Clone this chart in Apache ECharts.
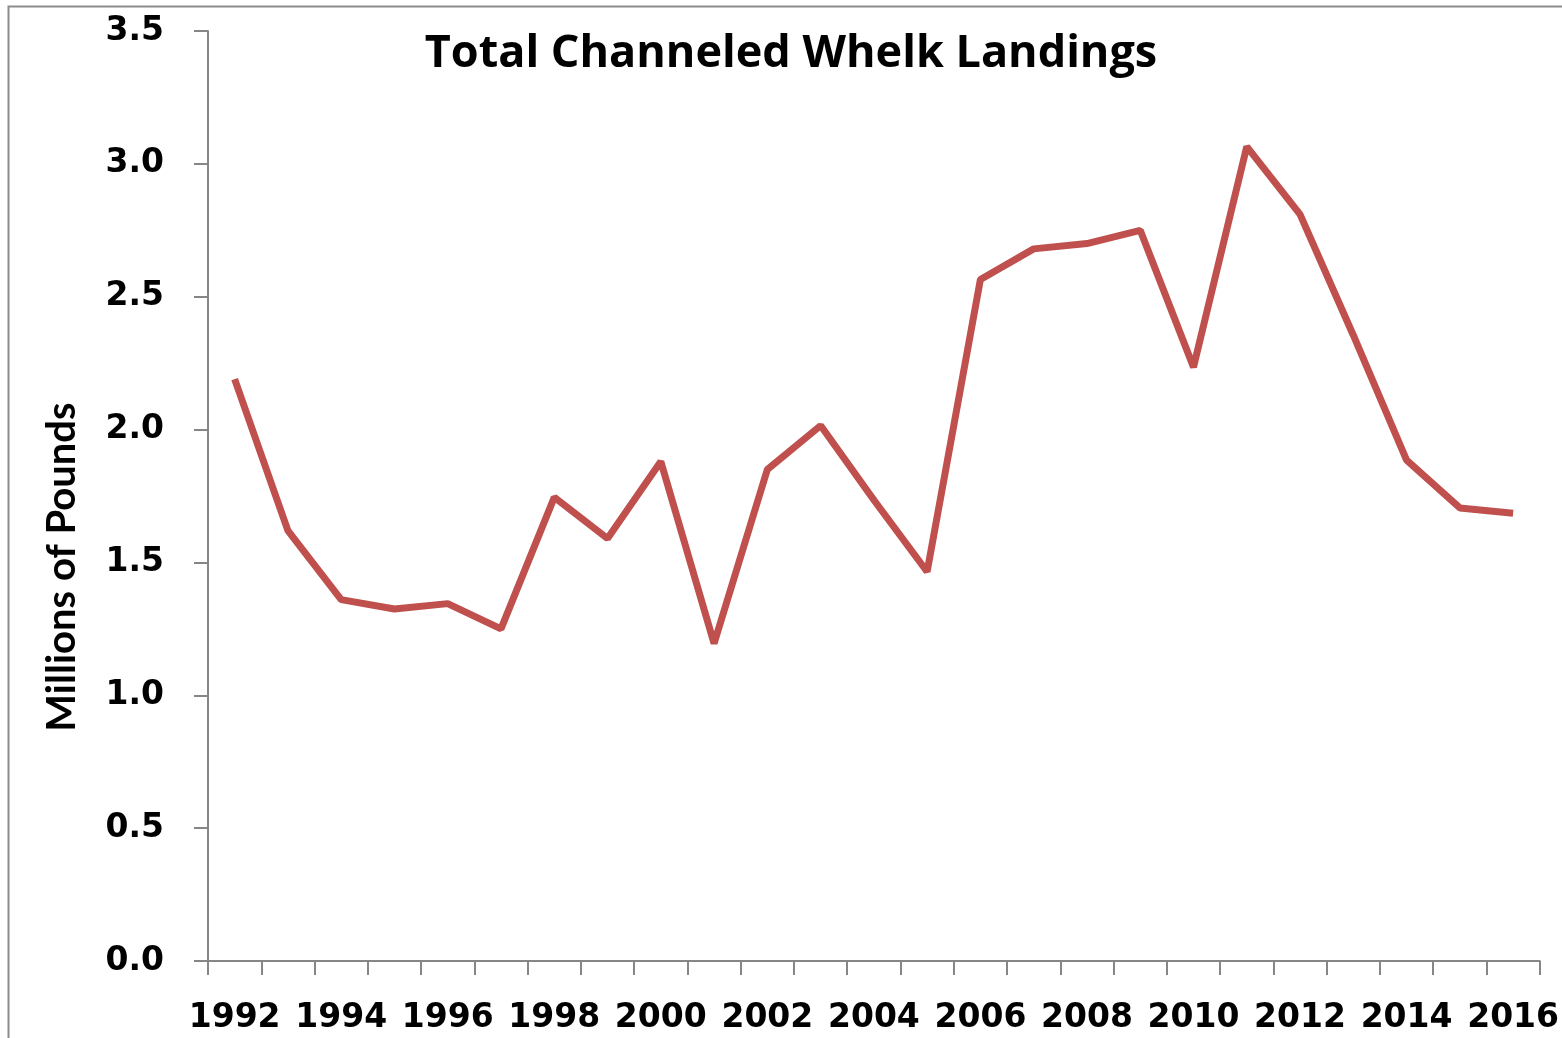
<!DOCTYPE html>
<html><head><meta charset="utf-8">
<script src="https://cdn.jsdelivr.net/npm/echarts@6/dist/echarts.min.js"></script>
<style>html,body{margin:0;padding:0;background:#fff}#c{width:1562px;height:1038px}</style>
</head><body><div id="c"></div>
<script>
const years = ['1992','1993','1994','1995','1996','1997','1998','1999','2000','2001','2002','2003','2004','2005','2006','2007','2008','2009','2010','2011','2012','2013','2014','2015','2016'];
const landings = [2.19,1.62,1.36,1.325,1.345,1.25,1.745,1.59,1.88,1.195,1.85,2.015,1.735,1.465,2.565,2.68,2.70,2.75,2.235,3.065,2.81,2.355,1.885,1.705,1.685];
const chartTitle = 'Total Channeled Whelk Landings';
const yName = 'Millions of Pounds';

const chart = echarts.init(document.getElementById('c'));
const axisGray = '#868686';
chart.setOption({
  animation: false,
  title: {
    text: chartTitle, left: 786, top: 27, textAlign: 'center',
    textStyle: {fontFamily: 'Open Sans', fontWeight: 'bold', fontSize: 45, color: '#000'}
  },
  graphic: [
    {type: 'rect', shape: {x: 8.5, y: 6.5, width: 1600, height: 1100},
     style: {fill: 'none', stroke: '#8c8c8c', lineWidth: 2}, silent: true},
    {type: 'text', x: 62, y: 567, rotation: Math.PI / 2,
     style: {text: yName, fontFamily: 'Lato', fontWeight: 'bold', fontSize: 40, fill: '#000',
             align: 'center', verticalAlign: 'middle'}}
  ],
  grid: {left: 208, right: 20, top: 31, bottom: 77, containLabel: false},
  xAxis: {
    type: 'category', data: years, boundaryGap: true,
    axisLine: {lineStyle: {color: axisGray, width: 2}},
    axisTick: {show: true, interval: 0, length: 14, lineStyle: {color: axisGray, width: 2}},
    axisLabel: {interval: 1, margin: 41, color: '#000', fontFamily: 'DejaVu Sans', fontWeight: 'bold', fontSize: 33},
    splitLine: {show: false}
  },
  yAxis: {
    type: 'value', min: 0, max: 3.5, interval: 0.5,
    axisLine: {show: true, lineStyle: {color: axisGray, width: 2}},
    axisTick: {show: true, length: 14, lineStyle: {color: axisGray, width: 2}},
    axisLabel: {margin: 44, color: '#000', fontFamily: 'DejaVu Sans', fontWeight: 'bold', fontSize: 33,
                formatter: v => v.toFixed(1)},
    splitLine: {show: false}
  },
  series: [{
    type: 'line', data: landings, symbol: 'none',
    lineStyle: {color: '#C0504D', width: 7}, itemStyle: {color: '#C0504D'}
  }]
});
</script></body></html>
